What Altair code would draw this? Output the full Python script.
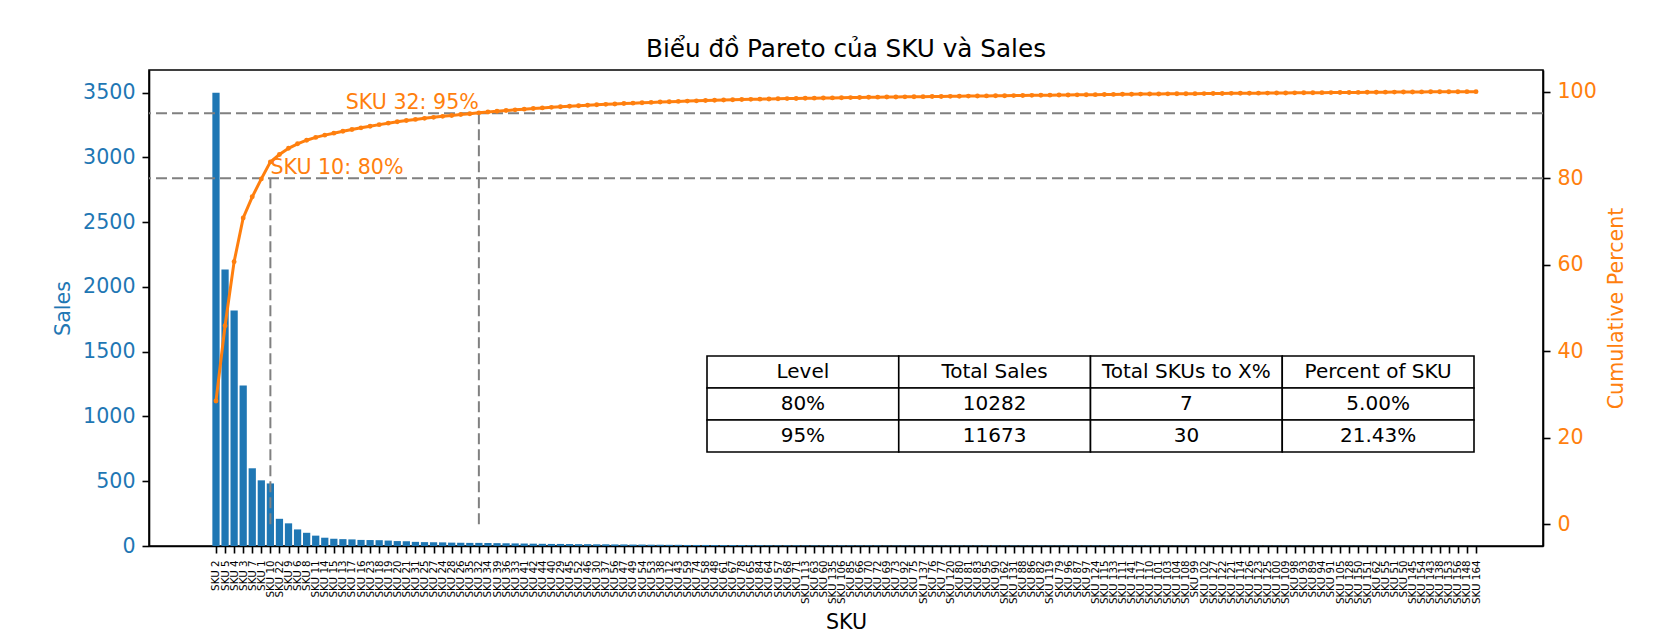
import altair as alt
import pandas as pd

# ---------------- data ----------------
sku_numbers = [
    2, 5, 4, 3, 7, 1, 10, 22, 9, 6, 8, 11, 14, 15, 13, 17, 16, 23, 18, 19,
    20, 21, 31, 25, 27, 24, 28, 26, 35, 32, 34, 39, 36, 33, 41, 42, 44, 40, 29, 45,
    52, 46, 30, 37, 56, 47, 49, 54, 53, 38, 12, 43, 59, 74, 58, 48, 61, 67, 78, 65,
    84, 64, 57, 68, 71, 113, 63, 60, 135, 106,
    85, 66, 70, 72, 69, 73, 92, 75, 137, 76,
    77, 120, 80, 81, 83, 95, 90, 162, 131, 88,
    86, 82, 119, 79, 96, 87, 97, 124, 115, 133,
    111, 141, 117, 110, 101, 103, 104, 108, 99, 102,
    127, 122, 121, 114, 126, 123, 125, 100, 109, 98,
    93, 89, 94, 91, 105, 128, 150, 151, 62, 55,
    51, 50, 145, 154, 143, 138, 153, 156, 148, 164,
]
sales = [
    3500, 2134, 1818, 1240, 600, 507, 483,
    210, 175, 128, 102, 80, 64, 56, 53, 51, 47, 46, 45, 42, 38, 36, 32, 30, 29, 28, 26, 25, 24, 24,
    23, 22, 21, 20, 19, 18, 17, 16, 16, 15, 14, 14, 13, 13, 12, 12, 11, 11, 10, 10,
    9, 9, 8, 8, 8, 7, 7, 7, 7, 6,
    6, 5, 5, 5, 5, 4, 4, 4, 4, 4,
    4, 4, 4, 4, 3, 3, 3, 3, 3, 3,
    3, 3, 3, 3, 3, 3, 3, 3, 3, 3,
    3, 3, 3, 3, 3, 3, 3, 3, 3, 3,
    3, 3, 3, 3, 2, 2, 2, 2, 2, 2,
    2, 2, 2, 2, 2, 2, 2, 2, 2, 2,
    2, 2, 2, 2, 2, 2, 2, 2, 2, 2,
    2, 2, 2, 2, 2, 1, 1, 1, 1, 1,
]
levels = [80, 95]
table_header = ["Level", "Total Sales", "Total SKUs to X%", "Percent of SKU"]
table_row1 = ["80%", "10282", "7", "5.00%"]
table_row2 = ["95%", "11673", "30", "21.43%"]

# ---------------- tables ----------------
skus = [f"SKU {n}" for n in sku_numbers]
n = len(skus)
df = pd.DataFrame({"sku": skus, "sales": sales})
df["idx"] = range(n)
df["cum"] = df["sales"].cumsum() / df["sales"].sum() * 100

ann_rows = []
for lv in levels:
    i = int((df["cum"] >= lv).idxmax())
    ann_rows.append({"idx": i, "level": lv, "zero": 0, "label": f"{skus[i]}: {lv}%"})
ann = pd.DataFrame(ann_rows)

cells = []
for r, row in enumerate([table_header, table_row1, table_row2]):
    for c, txt in enumerate(row):
        cells.append({"r": r, "c": c, "text": txt})
tdf = pd.DataFrame(cells)

# ---------------- styling ----------------
FONT = "DejaVu Sans"
BLUE = "#1f77b4"
ORANGE = "#ff7f0e"
FS = 20.6

label_expr = "[" + ",".join(f"'{s}'" for s in skus) + "][datum.value]"
x_scale = alt.Scale(domain=[-7.39, (n - 1) + 7.39], nice=False, zero=False, padding=0)
x_axis = alt.Axis(
    values=list(range(n)), labelExpr=label_expr, labelAngle=-90, labelFontSize=10.3,
    labelColor="black", labelOverlap=False, labelFlush=False, labelPadding=7,
    tickSize=7, tickWidth=1.6, tickColor="black", domainColor="black", domainWidth=1.6,
    grid=False, titleFontSize=FS, titleFontWeight="normal", titleColor="black",
    titleY=82, titleBaseline="alphabetic",
)


def xq(field):
    return alt.X(f"{field}:Q", scale=x_scale, axis=x_axis, title="SKU")


sales_axis = alt.Axis(
    orient="left", values=list(range(0, 3501, 500)), format="d", labelFontSize=FS, labelColor=BLUE,
    labelPadding=7, tickSize=7, tickWidth=1.6, tickColor="black", domainColor="black",
    domainWidth=1.6, grid=False, titleColor=BLUE, titleFontSize=FS, titleFontWeight="normal",
    titleAngle=270, titleX=-86, titleY=238, titleAlign="center", titleBaseline="middle",
)
pct_axis = alt.Axis(
    orient="right", values=list(range(0, 101, 20)), format="d", labelFontSize=FS, labelColor=ORANGE,
    labelPadding=7, tickSize=7, tickWidth=1.6, tickColor="black", domainColor="black",
    domainWidth=1.6, grid=False, titleColor=ORANGE, titleFontSize=FS, titleFontWeight="normal",
    titleAngle=270, titleX=73, titleY=238, titleAlign="center", titleBaseline="middle",
)
pct_scale = alt.Scale(domain=[-5, 105], nice=False, zero=False)


def yp(field):
    return alt.Y(f"{field}:Q", scale=pct_scale, axis=pct_axis, title="Cumulative Percent")


bars = alt.Chart(df).transform_calculate(
    x1="datum.idx - 0.4", x2="datum.idx + 0.4"
).mark_bar(color=BLUE, orient="vertical").encode(
    x=xq("x1"), x2="x2:Q",
    y=alt.Y("sales:Q", scale=alt.Scale(domain=[0, 3675], nice=False), axis=sales_axis, title="Sales"),
    y2=alt.datum(0),
)

hrules = alt.Chart(ann).mark_rule(color="gray", strokeDash=[11, 5], strokeWidth=2).encode(y=yp("level"))
vrules = alt.Chart(ann).mark_rule(color="gray", strokeDash=[11, 5], strokeWidth=2).encode(
    x=xq("idx"), y=yp("zero"), y2="level:Q"
)
line = alt.Chart(df).mark_line(color=ORANGE, strokeWidth=3).encode(x=xq("idx"), y=yp("cum"))
pts = alt.Chart(df).mark_point(color=ORANGE, filled=True, size=24, opacity=1).encode(x=xq("idx"), y=yp("cum"))
txt_left = alt.Chart(ann).transform_filter(alt.datum.level == levels[0]).mark_text(
    align="left", baseline="bottom", fontSize=FS, color=ORANGE, font=FONT
).encode(x=xq("idx"), y=yp("level"), text="label:N")
txt_right = alt.Chart(ann).transform_filter(alt.datum.level == levels[1]).mark_text(
    align="right", baseline="bottom", fontSize=FS, color=ORANGE, font=FONT
).encode(x=xq("idx"), y=yp("level"), text="label:N")

pct_layer = alt.layer(hrules, vrules, line, pts, txt_left, txt_right)
main = alt.layer(bars, pct_layer).resolve_scale(y="independent")

tx = alt.Scale(domain=[0, 4], range=[558, 1325])
ty = alt.Scale(domain=[0, 3], range=[286, 382])
cell_rects = alt.Chart(tdf).transform_calculate(c2="datum.c + 1", r2="datum.r + 1").mark_rect(
    fill="white", stroke="black", strokeWidth=1.6
).encode(
    x=alt.X("c:Q", scale=tx, axis=None), x2="c2:Q",
    y=alt.Y("r:Q", scale=ty, axis=None), y2="r2:Q",
)
cell_text = alt.Chart(tdf).transform_calculate(cm="datum.c + 0.5", rm="datum.r + 0.5").mark_text(
    fontSize=20, color="black", font=FONT, align="center", baseline="middle"
).encode(
    x=alt.X("cm:Q", scale=tx, axis=None),
    y=alt.Y("rm:Q", scale=ty, axis=None),
    text="text:N",
)
table = alt.layer(cell_rects, cell_text)

chart = alt.layer(main, table).resolve_scale(x="independent", y="independent").properties(
    width=1394, height=476,
    title=alt.TitleParams(
        "Biểu đồ Pareto của SKU và Sales", fontSize=24.7, font=FONT, fontWeight="normal",
        anchor="middle", frame="group", baseline="alphabetic", offset=-12, color="black",
    ),
    padding={"left": 149, "top": 70, "right": 117, "bottom": 87},
    autosize=alt.AutoSizeParams(type="none"),
).configure(font=FONT).configure_view(stroke="black", strokeWidth=1.6)

chart.save("out.html", embed_options={"renderer": "svg", "actions": False})
